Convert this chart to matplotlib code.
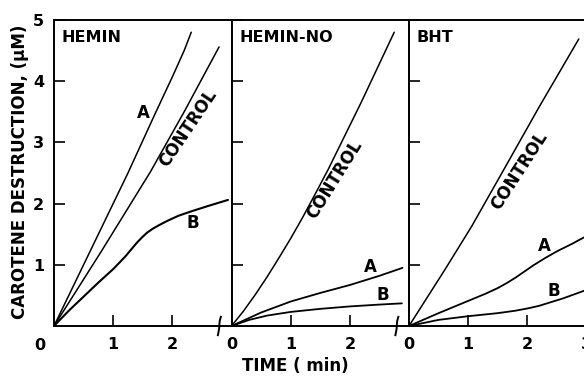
import numpy as np
import matplotlib
matplotlib.use("Agg")
import matplotlib.pyplot as plt

plt.rcParams['font.family'] = ['DejaVu Sans']
plt.rcParams['font.weight'] = 'bold'

# panel titles
panels = ['HEMIN', 'HEMIN-NO', 'BHT']

# HEMIN
h_a_t = [0, 0.6, 1.25, 1.7, 2.0, 2.2, 2.32]
h_a_y = [0, 1.2, 2.5, 3.45, 4.07, 4.5, 4.8]
h_c_t = [0, 0.8, 1.63, 2.2, 2.79]
h_c_y = [0, 1.22, 2.52, 3.5, 4.56]
h_b_t = [0, 0.25, 0.5, 0.75, 1.0, 1.2, 1.4, 1.5, 1.58, 1.67, 1.78, 1.92, 2.1, 2.31, 2.6, 2.94]
h_b_y = [0, 0.25, 0.48, 0.71, 0.93, 1.13, 1.36, 1.46, 1.53, 1.59, 1.65, 1.72, 1.80, 1.87, 1.96, 2.06]

# HEMIN-NO
n_c_t = [0, 0.2, 0.4, 0.6, 0.8, 1.0, 1.2, 1.4, 1.63, 2.2, 2.75]
n_c_y = [0, 0.24, 0.51, 0.80, 1.11, 1.43, 1.77, 2.13, 2.55, 3.67, 4.8]
n_a_t = [0, 0.5, 1.0, 1.5, 2.0, 2.5, 2.89]
n_a_y = [0, 0.22, 0.40, 0.54, 0.67, 0.82, 0.95]
n_b_t = [0, 0.3, 0.6, 1.0, 1.5, 2.0, 2.5, 2.88]
n_b_y = [0, 0.1, 0.17, 0.23, 0.28, 0.32, 0.35, 0.37]

# BHT
b_c_t = [0, 0.6, 1.06, 1.57, 2.2, 2.87]
b_c_y = [0, 0.91, 1.63, 2.5, 3.58, 4.69]
b_a_t = [0, 0.5, 1.0, 1.3, 1.5, 1.65, 1.8, 1.95, 2.1, 2.3, 2.5, 2.75, 3.0]
b_a_y = [0, 0.21, 0.41, 0.53, 0.62, 0.70, 0.79, 0.89, 0.99, 1.11, 1.22, 1.34, 1.47]
b_b_t = [0, 0.5, 1.0, 1.5, 1.8, 2.02, 2.2, 2.4, 2.6, 2.8, 3.0]
b_b_y = [0, 0.10, 0.16, 0.21, 0.25, 0.29, 0.33, 0.39, 0.45, 0.52, 0.59]

curves = [
    [(h_a_t, h_a_y, 1.1), (h_c_t, h_c_y, 1.1), (h_b_t, h_b_y, 1.5)],
    [(n_c_t, n_c_y, 1.1), (n_a_t, n_a_y, 1.3), (n_b_t, n_b_y, 1.3)],
    [(b_c_t, b_c_y, 1.1), (b_a_t, b_a_y, 1.3), (b_b_t, b_b_y, 1.3)],
]

# curve labels: (text, t, y, rotation)
labels = [
    [('A', 1.51, 3.48, 0), ('CONTROL', 2.26, 3.23, 56), ('B', 2.34, 1.69, 0)],
    [('CONTROL', 1.75, 2.39, 58), ('A', 2.35, 0.97, 0), ('B', 2.55, 0.51, 0)],
    [('CONTROL', 1.86, 2.54, 57), ('A', 2.29, 1.30, 0), ('B', 2.45, 0.58, 0)],
]

W, H = 584, 377
fig = plt.figure(figsize=(W / 100, H / 100), dpi=100)

x0, pw = 54, 177.5
top, bot = 20, 326

axes = []
for i in range(3):
    ax = fig.add_axes([(x0 + i * pw) / W, 1 - bot / H, pw / W, (bot - top) / H])
    axes.append(ax)
    ax.set_xlim(0, 3)
    ax.set_ylim(0, 5)
    for s in ax.spines.values():
        s.set_linewidth(1.4)
    ax.tick_params(direction='in', length=8, width=1.2, labelsize=11.5,
                   top=False, right=False)
    ax.tick_params(axis='x', pad=8)
    ax.tick_params(axis='y', pad=7)
    ax.set_yticks([1, 2, 3, 4, 5])
    if i == 0:
        ax.set_yticklabels(['1', '2', '3', '4', '5'])
    else:
        ax.set_yticklabels([])
    if i == 2:
        ax.set_xticks([0, 1, 2, 3])
        ax.set_xticklabels(['0', '1', '2', '3'])
    elif i == 1:
        ax.set_xticks([0, 1, 2])
        ax.set_xticklabels(['0', '1', '2'])
    else:
        ax.set_xticks([1, 2])
        ax.set_xticklabels(['1', '2'])

    for t, y, lw in curves[i]:
        ax.plot(t, y, color='black', lw=lw, solid_capstyle='round')
    for txt, t, y, rot in labels[i]:
        ax.text(t, y, txt, fontsize=12, rotation=rot, ha='center', va='center')
    ax.text(0.045, 0.944, panels[i], transform=ax.transAxes, fontsize=11.5,
            ha='left', va='center')

    if i < 2:
        ax.plot([2.77, 2.79, 2.80, 2.82], [-0.15, -0.05, 0.08, 0.15],
                color='black', lw=1.4, clip_on=False)

# corner zero of the first panel
fig.text(40 / W, 1 - 345 / H, '0', fontsize=11.5, ha='center', va='center')

fig.text(20 / W, 1 - 172 / H, 'CAROTENE DESTRUCTION, (μM)', rotation=90,
         fontsize=12, ha='center', va='center')
fig.text(295 / W, 1 - 366 / H, 'TIME ( min)', fontsize=12,
         ha='center', va='center')

fig.savefig('out.png', dpi=100)
